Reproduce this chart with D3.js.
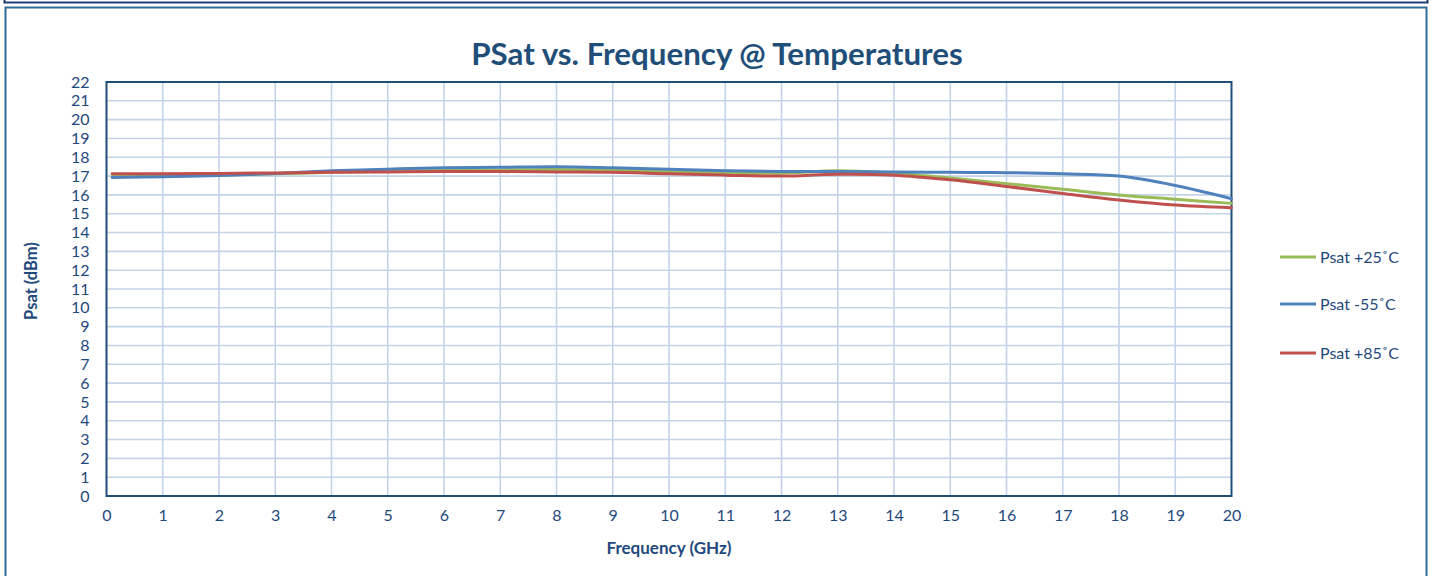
<!DOCTYPE html>
<html><head><meta charset="utf-8">
<script src="https://cdn.jsdelivr.net/npm/d3@7"></script>
<style>body{margin:0;background:#fff;} svg{display:block;}</style>
</head><body>
<svg id="c" width="1432" height="576"></svg>
<script>
const freqs = [0.1,1,2,3,4,5,6,7,8,9,10,11,12,13,14,15,16,17,18,19,20];
const psat25 = [16.98,17.0,17.05,17.12,17.2,17.25,17.3,17.33,17.35,17.32,17.23,17.18,17.15,17.28,17.15,16.9,16.6,16.3,16.0,15.77,15.55];
const psatM55 = [16.93,16.97,17.03,17.14,17.28,17.37,17.44,17.47,17.5,17.44,17.36,17.28,17.24,17.25,17.22,17.2,17.18,17.12,17.0,16.5,15.8];
const psat85 = [17.13,17.13,17.14,17.17,17.2,17.22,17.24,17.24,17.22,17.2,17.12,17.05,17.0,17.1,17.05,16.8,16.45,16.08,15.73,15.46,15.32];
const xTicks = d3.range(0,21);
const yTicks = d3.range(0,23);
const seriesNames = ["Psat +25˚C","Psat -55˚C","Psat +85˚C"];
const seriesColors = ["#9BBB59","#4F81BD","#C0504D"];
const title = "PSat vs. Frequency @ Temperatures";
const xTitle = "Frequency (GHz)";
const yTitle = "Psat (dBm)";

const svg = d3.select("#c");
const txt = "#1F497D";
const font = "Lato, 'Open Sans', sans-serif";

// frames
svg.append("rect").attr("x",4.5).attr("y",-10).attr("width",1423).attr("height",12.5)
  .attr("fill","none").attr("stroke","#1F3F73").attr("stroke-width",2);
svg.append("rect").attr("x",5.5).attr("y",7.5).attr("width",1421).attr("height",580)
  .attr("fill","#fff").attr("stroke","#2E6B96").attr("stroke-width",2);

const L=106.5, R=1231.5, T=82, B=496;
const x = d3.scaleLinear().domain([0,20]).range([L,R]);
const y = d3.scaleLinear().domain([0,22]).range([B,T]);

// gridlines
const g = svg.append("g");
g.selectAll(".vg").data(xTicks.slice(1,-1)).join("line")
  .attr("x1",d=>x(d)).attr("x2",d=>x(d)).attr("y1",T).attr("y2",B)
  .attr("stroke","#C3D3E8").attr("stroke-width",1.6);
g.selectAll(".hg").data(yTicks.slice(1,-1)).join("line")
  .attr("x1",L).attr("x2",R).attr("y1",d=>y(d)).attr("y2",d=>y(d))
  .attr("stroke","#C3D3E8").attr("stroke-width",1.6);

// axes with d3
const xAxis = d3.axisBottom(x).tickValues(xTicks).tickSize(0).tickPadding(14);
const xa = svg.append("g").attr("transform",`translate(0,${B})`).call(xAxis);
xa.select(".domain").remove();
xa.selectAll("text").attr("fill",txt).style("font-family",font).style("font-size","16px");
const yAxis = d3.axisLeft(y).tickValues(yTicks).tickSize(0).tickPadding(17);
const ya = svg.append("g").attr("transform",`translate(${L},0)`).call(yAxis);
ya.select(".domain").remove();
ya.selectAll("text").attr("fill",txt).style("font-family",font).style("font-size","16px");

// plot border
svg.append("rect").attr("x",L).attr("y",T).attr("width",R-L).attr("height",B-T)
  .attr("fill","none").attr("stroke","#1F4E79").attr("stroke-width",2);

// lines
const line = d3.line().x((d,i)=>x(freqs[i])).y(d=>y(d)).curve(d3.curveCatmullRom.alpha(0.5));
const data = [psat25, psatM55, psat85];
[0,1,2].forEach(i=>{
  svg.append("path").datum(data[i]).attr("d",line).attr("fill","none")
    .attr("stroke",seriesColors[i]).attr("stroke-width",3).attr("stroke-linecap","round");
});

// title
svg.append("text").attr("x",717).attr("y",65).attr("text-anchor","middle")
  .attr("fill","#1F4E79").style("font-family",font).style("font-weight","bold").style("font-size","31.3px")
  .text(title);
svg.append("text").attr("x",669).attr("y",554).attr("text-anchor","middle")
  .attr("fill",txt).style("font-family",font).style("font-weight","bold").style("font-size","17px")
  .text(xTitle);
svg.append("text").attr("transform","translate(37,281) rotate(-90)").attr("text-anchor","middle")
  .attr("fill",txt).style("font-family",font).style("font-weight","bold").style("font-size","16.5px")
  .text(yTitle);

// legend
const ly = [257,304,353];
seriesNames.forEach((n,i)=>{
  svg.append("line").attr("x1",1280).attr("x2",1316).attr("y1",ly[i]).attr("y2",ly[i])
    .attr("stroke",seriesColors[i]).attr("stroke-width",3);
  svg.append("text").attr("x",1320).attr("y",ly[i]+5.5).attr("fill",txt)
    .style("font-family",font).style("font-size","16px").text(n);
});
</script>
</body></html>
